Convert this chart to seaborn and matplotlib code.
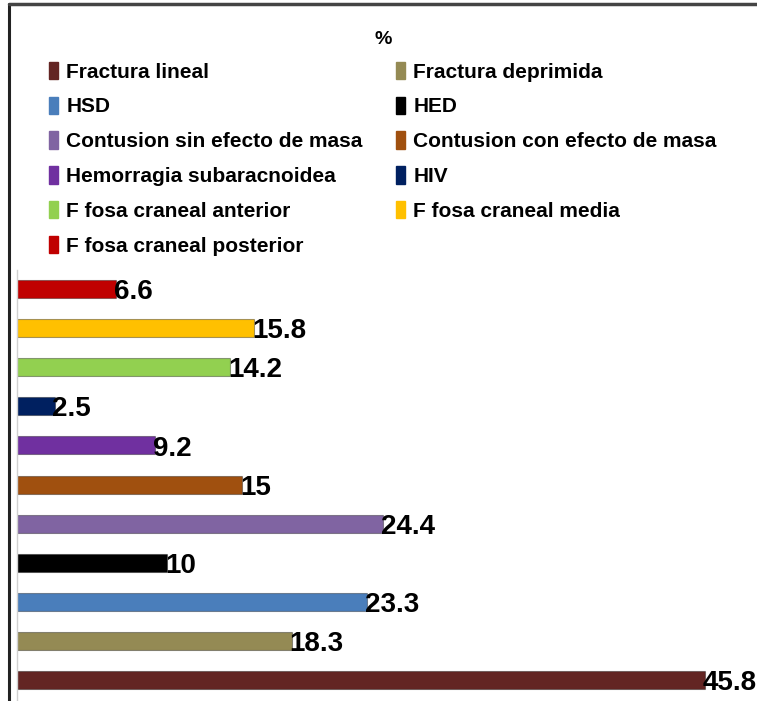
import matplotlib
matplotlib.use("Agg")
import matplotlib.pyplot as plt
import matplotlib.patches as mpatches
import pandas as pd
import seaborn as sns

categories = [
    "Fractura lineal", "Fractura deprimida", "HSD", "HED",
    "Contusion sin efecto de masa", "Contusion con efecto de masa",
    "Hemorragia subaracnoidea", "HIV", "F fosa craneal anterior",
    "F fosa craneal media", "F fosa craneal posterior",
]
values = [45.8, 18.3, 23.3, 10, 24.4, 15, 9.2, 2.5, 14.2, 15.8, 6.6]
value_labels = ["45.8", "18.3", "23.3", "10", "24.4", "15", "9.2", "2.5", "14.2", "15.8", "6.6"]
colors = ["#632523", "#948A54", "#4A7EBB", "#000000", "#8064A2", "#A0500F",
          "#7030A0", "#002060", "#92D050", "#FFC000", "#C00000"]

sns.set_style("white")
plt.rcParams["font.family"] = ["Liberation Sans", "DejaVu Sans"]
plt.rcParams["text.color"] = "black"

df = pd.DataFrame({"cat": categories, "val": values})
order = categories[::-1]
palette = dict(zip(categories, colors))

fig = plt.figure(figsize=(7.57, 7.01), dpi=100)
ax = fig.add_axes([17 / 757, 0, 1 - 17 / 757, 431 / 701])

sns.barplot(data=df, y="cat", x="val", hue="cat", order=order, palette=palette,
            orient="h", width=0.46, legend=False, ax=ax, saturation=1)
for p in ax.patches:
    p.set_edgecolor((0, 0, 0, 0.35))
    p.set_linewidth(0.8)

ax.set_xlim(0, 49.27)
ax.set_ylim(10.54, -0.49)
for cat, v, lab in zip(categories, values, value_labels):
    y = order.index(cat)
    ax.text(v - 0.15, y + 0.08, lab, ha="left", va="center", fontsize=20,
            fontweight="bold", color="black")

ax.set_xlabel("")
ax.set_ylabel("")
ax.set_xticks([])
ax.set_yticks([])
for s in ["top", "right", "bottom"]:
    ax.spines[s].set_visible(False)
ax.spines["left"].set_color("#d0d0d0")
ax.spines["left"].set_linewidth(1)

# legend, row-wise order in two columns
handles = [mpatches.Patch(color=c, label=n) for n, c in zip(categories, colors)]
reordered = handles[0::2] + handles[1::2]
leg = fig.legend(handles=reordered, ncol=2, loc="upper left",
                 bbox_to_anchor=(30 / 757, 1 - 43 / 701), frameon=False,
                 prop={"size": 15, "weight": "bold"}, handlelength=0.45,
                 handleheight=0.9, handletextpad=0.4, columnspacing=1.58,
                 labelspacing=0.72)
for t in leg.get_texts():
    t.set_color("black")
fig.text(383 / 757, 1 - 39 / 701, "%", ha="center", va="center",
         fontsize=14, fontweight="bold", color="black")

# frame lines of the picture
fig.add_artist(plt.Line2D([9 / 757, 9 / 757], [0, 1 - 4 / 701], color="#222222", lw=2.2, transform=fig.transFigure))
fig.add_artist(plt.Line2D([9 / 757, 1], [1 - 4 / 701, 1 - 4 / 701], color="#444444", lw=2.5, transform=fig.transFigure))

fig.savefig("out.png", dpi=100)
